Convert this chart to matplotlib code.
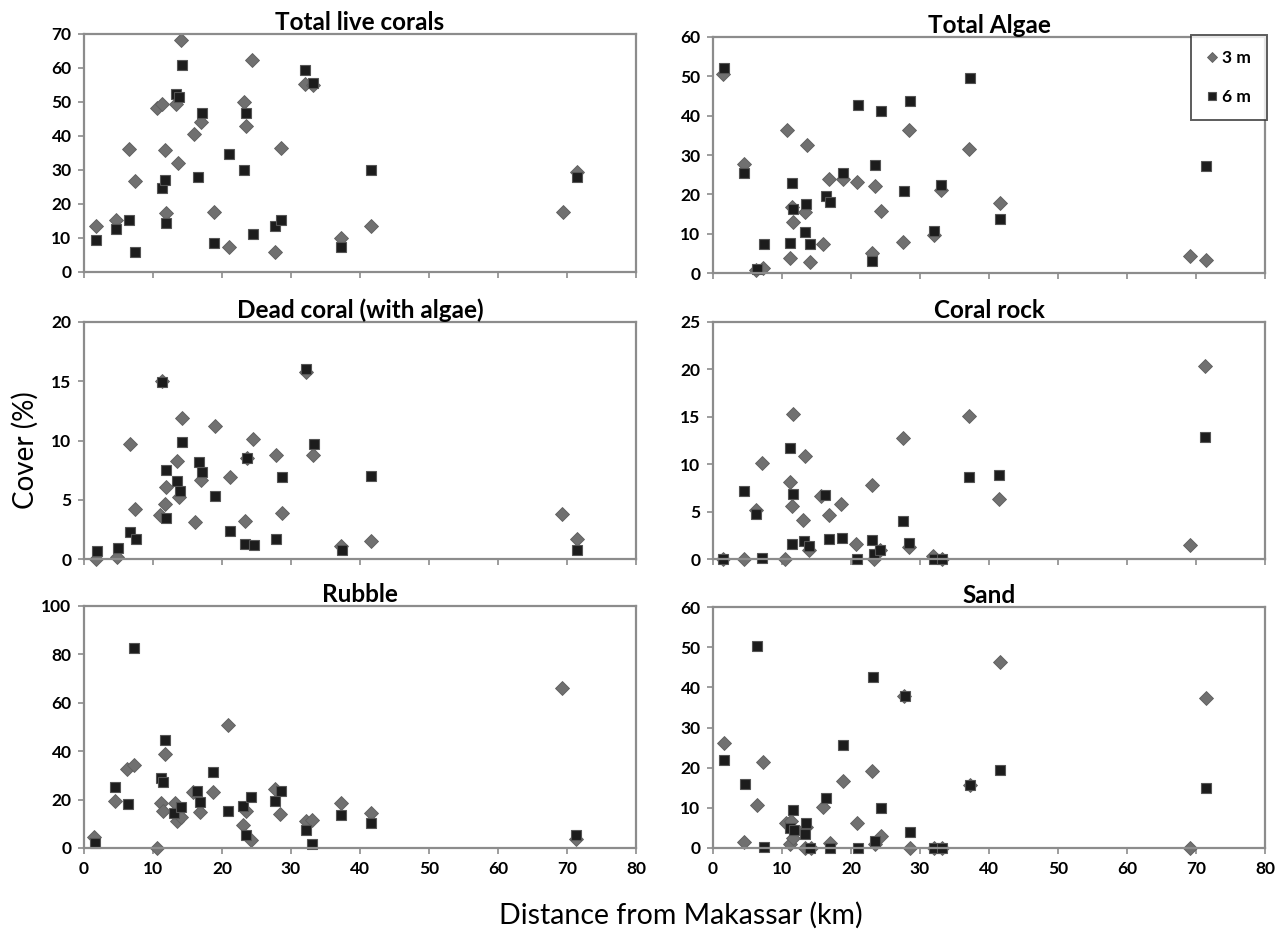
import matplotlib.pyplot as plt

# Distance (km) / cover (%), 3 m = diamonds, 6 m = squares
live_x3 = [1.75, 4.65, 6.45, 7.4, 10.65, 11.25, 11.75, 11.85, 13.35, 13.6, 14.1, 16.0, 17.0,
           18.85, 21.0, 23.15, 23.5, 24.4, 27.7, 28.6, 32.1, 33.25, 37.3, 41.55, 69.35, 71.45]
live_y3 = [13.4, 15.2, 36.2, 26.7, 48.2, 49.3, 35.8, 17.4, 49.3, 32.0, 68.3, 40.6, 44.0,
           17.5, 7.5, 50.1, 42.8, 62.4, 5.9, 36.6, 55.3, 55.1, 10.1, 13.4, 17.6, 29.3]
live_x6 = [1.75, 4.65, 6.5, 7.4, 11.3, 11.7, 11.85, 13.4, 13.7, 14.15, 16.45, 17.1, 18.85,
           21.05, 23.2, 23.55, 24.45, 27.7, 28.55, 32.1, 33.25, 37.3, 41.55, 71.45]
live_y6 = [9.3, 12.7, 15.2, 5.8, 24.6, 27.1, 14.5, 52.4, 51.4, 60.8, 27.8, 46.9, 8.5,
           34.7, 30.1, 46.9, 11.3, 13.5, 15.4, 59.4, 55.6, 7.4, 30.1, 27.9]

algae_x3 = [1.5, 4.55, 6.3, 7.2, 10.7, 11.2, 11.45, 11.65, 13.3, 13.6, 14.05, 15.9, 16.8,
            18.8, 20.8, 23.05, 23.45, 24.3, 27.6, 28.45, 32.05, 33.1, 37.15, 41.55, 69.2, 71.45]
algae_y3 = [50.7, 27.8, 0.7, 1.3, 36.3, 3.7, 16.7, 12.9, 15.4, 32.5, 2.8, 7.4, 23.8,
            23.8, 23.2, 5.2, 22.1, 15.7, 8.0, 36.4, 9.6, 21.2, 31.4, 17.8, 4.4, 3.4]
algae_x6 = [1.65, 4.55, 6.4, 7.35, 11.2, 11.5, 11.65, 13.35, 13.55, 14.05, 16.4, 16.9, 18.8,
            20.95, 23.1, 23.5, 24.35, 27.65, 28.5, 32.1, 33.1, 37.2, 41.55, 71.45]
algae_y6 = [52.2, 25.4, 1.0, 7.5, 7.7, 22.9, 16.3, 10.3, 17.5, 7.3, 19.7, 18.0, 25.4,
            42.8, 3.0, 27.5, 41.2, 20.9, 43.7, 10.8, 22.4, 49.5, 13.8, 27.1]

dead_x3 = [1.75, 4.8, 6.6, 7.45, 10.95, 11.35, 11.8, 11.95, 13.5, 13.7, 14.2, 16.05, 17.0,
           18.95, 21.1, 23.3, 23.65, 24.5, 27.8, 28.65, 32.15, 33.2, 37.3, 41.6, 69.3, 71.4]
dead_y3 = [0.0, 0.2, 9.7, 4.2, 3.7, 15.0, 4.6, 6.1, 8.3, 5.2, 11.9, 3.1, 6.7,
           11.2, 6.9, 3.2, 8.5, 10.1, 8.8, 3.9, 15.8, 8.8, 1.1, 1.5, 3.8, 1.7]
dead_x6 = [1.9, 4.9, 6.6, 7.5, 11.35, 11.95, 11.85, 13.55, 13.85, 14.25, 16.6, 17.1, 18.95,
           21.15, 23.3, 23.65, 24.6, 27.8, 28.65, 32.2, 33.3, 37.35, 41.65, 71.4]
dead_y6 = [0.7, 0.9, 2.3, 1.7, 14.9, 7.5, 3.5, 6.6, 5.7, 9.9, 8.2, 7.3, 5.3,
           2.4, 1.3, 8.5, 1.2, 1.7, 6.9, 16.0, 9.7, 0.8, 7.0, 0.8]

rock_x3 = [1.5, 4.45, 6.2, 7.05, 10.5, 11.1, 11.45, 11.55, 13.1, 13.35, 13.9, 15.7, 16.75,
           18.6, 20.75, 23.0, 23.35, 24.15, 27.55, 28.35, 31.85, 33.2, 37.1, 41.4, 69.1, 71.3]
rock_y3 = [0.0, 0.0, 5.2, 10.1, 0.0, 8.1, 5.6, 15.3, 4.1, 10.9, 0.95, 6.6, 4.6,
           5.8, 1.6, 7.8, 0.0, 0.9, 12.8, 1.3, 0.35, 0.0, 15.1, 6.3, 1.5, 20.4]
rock_x6 = [1.5, 4.45, 6.2, 7.1, 11.15, 11.6, 11.45, 13.2, 13.9, 16.3, 16.8, 18.65, 20.85,
           23.0, 23.35, 24.15, 27.6, 28.35, 32.0, 33.15, 37.1, 41.45, 71.3]
rock_y6 = [0.0, 7.2, 4.7, 0.1, 11.7, 6.9, 1.6, 1.9, 1.4, 6.8, 2.1, 2.25, 0.0,
           2.0, 0.5, 1.0, 4.0, 1.7, 0.0, 0.0, 8.6, 8.9, 12.9]

rubble_x3 = [1.5, 4.5, 6.2, 7.25, 10.6, 11.2, 11.5, 11.7, 13.2, 13.5, 14.0, 15.8, 16.8,
             18.7, 20.9, 23.0, 23.5, 24.2, 27.7, 28.45, 32.15, 33.05, 37.25, 41.6, 69.25, 71.3]
rubble_y3 = [4.4, 19.4, 32.6, 34.2, 0.0, 18.7, 15.2, 38.8, 18.6, 11.2, 12.8, 23.1, 15.0,
             23.3, 50.8, 9.6, 15.2, 3.4, 24.5, 14.0, 11.2, 11.4, 18.5, 14.5, 66.3, 3.9]
rubble_x6 = [1.6, 4.5, 6.4, 7.25, 11.2, 11.5, 11.7, 13.1, 14.1, 16.4, 16.8, 18.7, 20.9,
             23.0, 23.45, 24.25, 27.7, 28.55, 32.15, 33.1, 37.25, 41.6, 71.35]
rubble_y6 = [1.9, 25.1, 18.2, 82.5, 28.8, 27.1, 44.8, 14.5, 17.1, 23.4, 18.9, 31.4, 15.4,
             17.2, 5.4, 20.9, 19.6, 23.7, 7.4, 1.8, 13.8, 10.5, 5.2]

sand_x3 = [1.6, 4.55, 6.4, 7.3, 10.6, 11.1, 11.35, 11.65, 13.3, 13.55, 14.15, 15.9, 16.9,
           18.8, 20.9, 23.1, 23.45, 24.4, 27.7, 28.5, 32.0, 33.2, 37.3, 41.55, 69.2, 71.45]
sand_y3 = [26.1, 1.6, 10.6, 21.4, 6.1, 0.9, 6.8, 2.5, 0.0, 5.2, 0.0, 10.2, 1.2,
           16.6, 6.1, 19.2, 0.9, 3.0, 37.9, 0.0, 0.0, 0.0, 15.8, 46.2, 0.0, 37.3]
sand_x6 = [1.6, 4.6, 6.4, 7.35, 11.15, 11.6, 11.7, 13.3, 13.55, 14.1, 16.4, 16.9, 18.8,
           20.95, 23.15, 23.55, 24.35, 27.8, 28.5, 32.05, 33.15, 37.2, 41.55, 71.45]
sand_y6 = [21.8, 16.0, 50.3, 0.3, 5.0, 9.4, 4.5, 3.5, 6.1, 0.0, 12.4, 0.0, 25.7,
           0.0, 42.5, 1.7, 9.9, 37.9, 4.1, 0.0, 0.0, 15.7, 19.5, 15.0]

panels = [
    ('Total live corals', live_x3, live_y3, live_x6, live_y6, 70, 10),
    ('Total Algae', algae_x3, algae_y3, algae_x6, algae_y6, 60, 10),
    ('Dead coral (with algae)', dead_x3, dead_y3, dead_x6, dead_y6, 20, 5),
    ('Coral rock', rock_x3, rock_y3, rock_x6, rock_y6, 25, 5),
    ('Rubble', rubble_x3, rubble_y3, rubble_x6, rubble_y6, 100, 20),
    ('Sand', sand_x3, sand_y3, sand_x6, sand_y6, 60, 10),
]

# axes boxes in pixels (left, top, right, bottom) measured on the 1284x933 reference
W, H = 1284, 933
boxes = [
    (84, 34, 636, 272), (713, 37, 1265, 273),
    (84, 322, 636, 559), (713, 322, 1265, 559),
    (84, 606, 636, 848), (713, 607, 1265, 848),
]

plt.rcParams['font.family'] = ['Lato', 'DejaVu Sans']
GRID = '#8c8c8c'
DIAMOND = '#707070'
SQUARE = '#1c1c1c'

fig = plt.figure(figsize=(W / 100, H / 100), dpi=100)

for i, ((title, x3, y3, x6, y6, ymax, ystep), (l, t, r, b)) in enumerate(zip(panels, boxes)):
    ax = fig.add_axes([l / W, 1 - b / H, (r - l) / W, (b - t) / H])
    ax.plot(x3, y3, 'D', ms=7.2, color=DIAMOND, mec='#5e5e5e', mew=0.6, ls='none', label='3 m')
    ax.plot(x6, y6, 's', ms=7.4, color=SQUARE, mec='#555555', mew=0.8, ls='none', label='6 m')
    ax.set_xlim(0, 80)
    ax.set_ylim(0, ymax)
    ax.set_xticks(range(0, 81, 10))
    ax.set_yticks(range(0, ymax + 1, ystep))
    if i < 4:
        ax.set_xticklabels([])
    ax.set_title(title, fontsize=17.5, fontweight='bold', pad=3)
    for s in ax.spines.values():
        s.set_color(GRID)
        s.set_linewidth(1.6)
    ax.tick_params(direction='out', length=4, width=1.2, color=GRID,
                   labelsize=12.5, pad=5)
    for lab in ax.get_xticklabels() + ax.get_yticklabels():
        lab.set_fontweight('bold')
    for ln in ax.lines:
        ln.set_clip_on(False)
    if i == 1:
        leg = ax.legend(loc='upper right', bbox_to_anchor=(1.003, 1.01), borderaxespad=0,
                        frameon=True, fancybox=False, edgecolor='#333333',
                        markerscale=0.75, handlelength=0.6, handletextpad=0.3,
                        labelspacing=1.3, borderpad=0.9, prop={'weight': 'bold', 'size': 12.5})
        leg.get_frame().set_linewidth(1.4)

fig.text(0.02, 0.518, 'Cover (%)', rotation=90, fontsize=20, ha='center', va='center')
fig.text(0.53, 0.019, 'Distance from Makassar (km)', fontsize=20.5, ha='center', va='center')

plt.savefig('out.png', dpi=100)
